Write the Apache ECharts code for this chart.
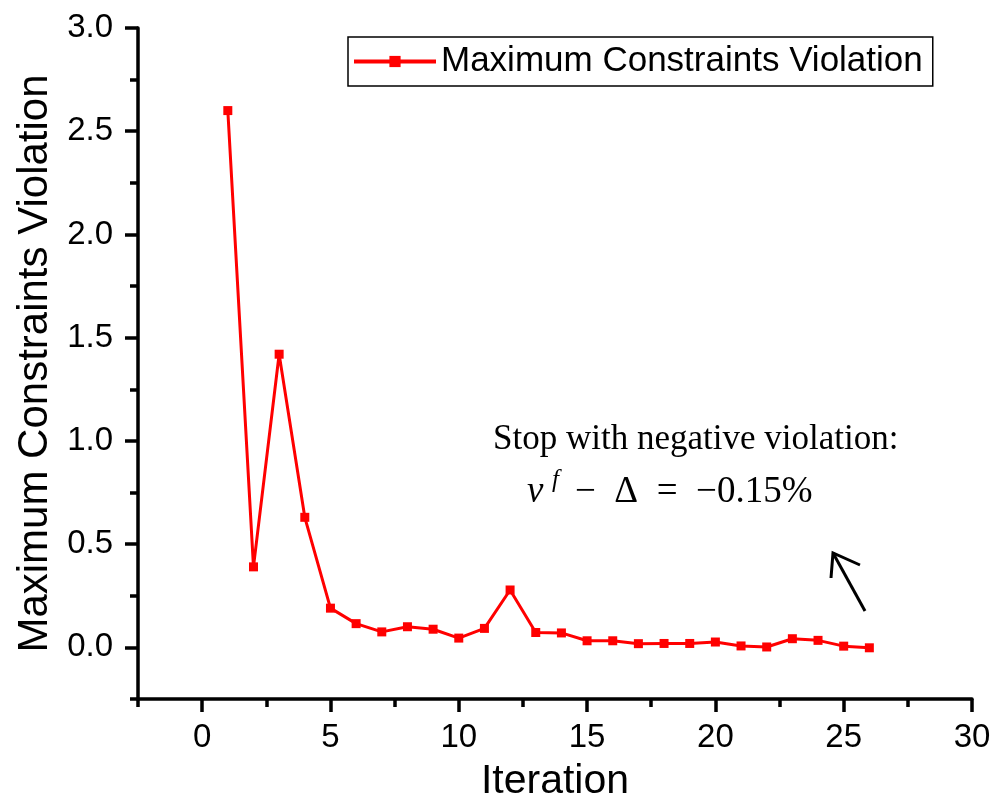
<!DOCTYPE html>
<html>
<head>
<meta charset="utf-8">
<script src="https://cdn.jsdelivr.net/npm/echarts@6/dist/echarts.min.js"></script>
<style>
    html, body { margin: 0; padding: 0; background: #fff; }
    #main { width: 1008px; height: 812px; }
</style>
</head>
<body>
<div id="main"></div>
<script>
var myChart;

// iterations and violation values
var iterations = [1, 2, 3, 4, 5, 6, 7, 8, 9, 10, 11, 12, 13, 14, 15, 16, 17, 18, 19, 20, 21, 22, 23, 24, 25, 26];
var violations = [2.60, 0.39, 1.42, 0.63, 0.19, 0.115, 0.075, 0.10, 0.088, 0.045, 0.092, 0.278, 0.072, 0.07,
    0.032, 0.032, 0.018, 0.019, 0.019, 0.026, 0.007, 0.002, 0.042, 0.034, 0.006, -0.002];

// tick labels
var xTicks = [0, 5, 10, 15, 20, 25, 30];
var xMinorTicks = [-2.5, 2.5, 7.5, 12.5, 17.5, 22.5, 27.5];
var yTicks = [0, 0.5, 1.0, 1.5, 2.0, 2.5, 3.0];
var yMinorTicks = [-0.25, 0.25, 0.75, 1.25, 1.75, 2.25, 2.75];

var seriesName = 'Maximum Constraints Violation';

function buildData() {
    var d = [];
    for (var i = 0; i < iterations.length; i++) {
        d.push([iterations[i], violations[i]]);
    }
    return d;
}

function DrawChart() {
    myChart = echarts.init(document.getElementById('main'), null, { renderer: 'canvas' });
    var sans = 'Liberation Sans, Arial, sans-serif';
    var serif = 'Liberation Serif, Times New Roman, serif';
    var axisLine = { show: true, onZero: false, lineStyle: { color: '#000', width: 3.5 } };
    var hiddenLine = { show: false, onZero: false };
    var tickStyle = { color: '#000', width: 3.5 };

    option = {
        animation: false,
        backgroundColor: '#fff',
        grid: { left: 138, right: 36, top: 28, bottom: 113, containLabel: false },
        legend: {
            left: 348,
            top: 37,
            padding: [4, 10, 4, 4],
            borderColor: '#000',
            borderWidth: 1.5,
            itemWidth: 82,
            itemHeight: 14,
            itemGap: 8,
            lineStyle: { width: 4 },
            textStyle: { fontFamily: sans, fontSize: 35, color: '#000', lineHeight: 41 },
            data: [seriesName]
        },
        xAxis: [
            {
                type: 'value',
                min: -2.5,
                max: 30,
                name: 'Iteration',
                nameLocation: 'middle',
                nameGap: 62,
                nameTextStyle: { fontFamily: sans, fontSize: 41, color: '#000' },
                axisLine: axisLine,
                axisTick: { show: true, inside: false, length: 13, lineStyle: tickStyle, customValues: xTicks },
                axisLabel: {
                    show: true, margin: 22, fontFamily: sans, fontSize: 33, color: '#000',
                    customValues: xTicks
                },
                splitLine: { show: false }
            },
            {
                type: 'value',
                min: -2.5,
                max: 30,
                position: 'bottom',
                axisLine: hiddenLine,
                axisTick: { show: true, inside: false, length: 8, lineStyle: tickStyle, customValues: xMinorTicks },
                axisLabel: { show: false },
                splitLine: { show: false }
            }
        ],
        yAxis: [
            {
                type: 'value',
                min: -0.25,
                max: 3.0,
                name: 'Maximum Constraints Violation',
                nameLocation: 'middle',
                nameGap: 78,
                nameTextStyle: { fontFamily: sans, fontSize: 42, color: '#000' },
                axisLine: axisLine,
                axisTick: { show: true, inside: false, length: 13, lineStyle: tickStyle, customValues: yTicks },
                axisLabel: {
                    show: true, margin: 25, fontFamily: sans, fontSize: 33, color: '#000',
                    customValues: yTicks,
                    formatter: function (v) { return v.toFixed(1); }
                },
                splitLine: { show: false }
            },
            {
                type: 'value',
                min: -0.25,
                max: 3.0,
                position: 'left',
                axisLine: hiddenLine,
                axisTick: { show: true, inside: false, length: 8, lineStyle: tickStyle, customValues: yMinorTicks },
                axisLabel: { show: false },
                splitLine: { show: false }
            }
        ],
        series: [
            {
                name: seriesName,
                type: 'line',
                xAxisIndex: 0,
                yAxisIndex: 0,
                data: buildData(),
                color: '#ff0000',
                symbol: 'rect',
                symbolSize: 9,
                showAllSymbol: true,
                lineStyle: { color: '#ff0000', width: 3 },
                itemStyle: { color: '#ff0000' }
            }
        ],
        graphic: [
            {
                type: 'text', left: 493, top: 422,
                style: { text: 'Stop with negative violation:', font: '35px ' + serif, fill: '#000' }
            },
            {
                type: 'text', left: 527, top: 474,
                style: { text: 'ν', font: 'italic 37px ' + serif, fill: '#000' }
            },
            {
                type: 'text', left: 552, top: 468,
                style: { text: 'f', font: 'italic 25px ' + serif, fill: '#000' }
            },
            {
                type: 'text', left: 575, top: 474,
                style: { text: '−  Δ  =  −0.15%', font: '37px ' + serif, fill: '#000' }
            },
            {
                type: 'polyline',
                shape: { points: [[865, 611], [833, 553]] },
                style: { stroke: '#000', lineWidth: 3, fill: null }
            },
            {
                type: 'polyline',
                shape: { points: [[831, 578], [833, 553], [860, 565]] },
                style: { stroke: '#000', lineWidth: 3, fill: null }
            }
        ]
    };
    myChart.setOption(option);
}

DrawChart();
</script>
</body>
</html>
